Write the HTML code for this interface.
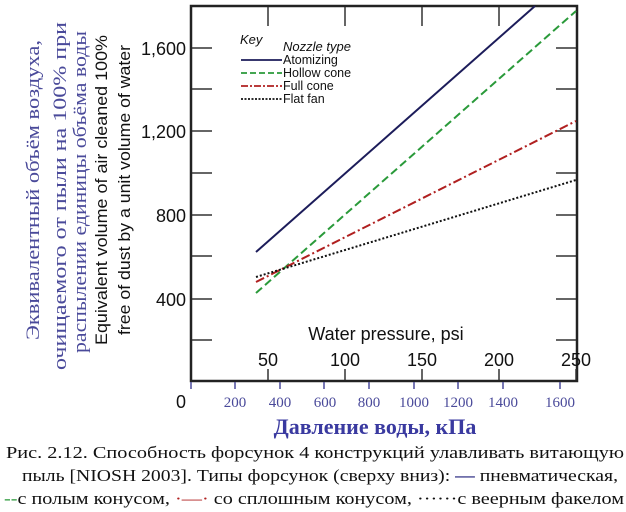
<!DOCTYPE html>
<html><head><meta charset="utf-8"><style>
html,body{margin:0;padding:0;background:#fff;}
svg{display:block;}
</style></head><body>
<svg width="626" height="512" viewBox="0 0 626 512" xmlns="http://www.w3.org/2000/svg">
<rect width="626" height="512" fill="#fff"/>
<rect x="191" y="6" width="386" height="375" fill="none" stroke="#222" stroke-width="2.5"/>
<g stroke="#333" stroke-width="1.5">
<line x1="192" y1="48" x2="212" y2="48"/><line x1="192" y1="89" x2="212" y2="89"/>
<line x1="192" y1="131" x2="212" y2="131"/><line x1="192" y1="173" x2="212" y2="173"/>
<line x1="192" y1="215" x2="212" y2="215"/><line x1="192" y1="256" x2="212" y2="256"/>
<line x1="192" y1="299" x2="212" y2="299"/><line x1="192" y1="340" x2="212" y2="340"/>
<line x1="556" y1="48" x2="576" y2="48"/><line x1="556" y1="89" x2="576" y2="89"/>
<line x1="556" y1="131" x2="576" y2="131"/><line x1="556" y1="173" x2="576" y2="173"/>
<line x1="556" y1="215" x2="576" y2="215"/><line x1="556" y1="256" x2="576" y2="256"/>
<line x1="556" y1="299" x2="576" y2="299"/><line x1="556" y1="340" x2="576" y2="340"/>
<line x1="268" y1="7" x2="268" y2="26"/><line x1="345" y1="7" x2="345" y2="26"/>
<line x1="422" y1="7" x2="422" y2="26"/><line x1="499" y1="7" x2="499" y2="26"/>
<line x1="268" y1="380" x2="268" y2="369"/><line x1="345" y1="380" x2="345" y2="369"/>
<line x1="422" y1="380" x2="422" y2="369"/><line x1="499" y1="380" x2="499" y2="369"/>
<line x1="576" y1="380" x2="576" y2="369"/>
</g>
<g stroke="#4a4a9a" stroke-width="1.5">
<line x1="191" y1="382" x2="191" y2="389"/><line x1="235" y1="382" x2="235" y2="389"/>
<line x1="280" y1="382" x2="280" y2="389"/><line x1="324" y1="382" x2="324" y2="389"/>
<line x1="369" y1="382" x2="369" y2="389"/><line x1="414" y1="382" x2="414" y2="389"/>
<line x1="458" y1="382" x2="458" y2="389"/><line x1="503" y1="382" x2="503" y2="389"/>
<line x1="560" y1="382" x2="560" y2="389"/>
</g>
<line x1="256" y1="252" x2="535" y2="6" stroke="#1c1c5a" stroke-width="2"/>
<line x1="256" y1="293" x2="576" y2="11" stroke="#2a9a3a" stroke-width="2" stroke-dasharray="8,4"/>
<line x1="256" y1="282" x2="576" y2="121" stroke="#b02020" stroke-width="2" stroke-dasharray="9,3,2,3"/>
<line x1="256" y1="277" x2="576" y2="180" stroke="#111" stroke-width="2" stroke-dasharray="2,2"/>
<g font-family="Liberation Sans, sans-serif" font-size="12.5" fill="#111">
<text x="240" y="44" font-style="italic" font-size="13">Key</text>
<text x="283" y="51" font-style="italic" font-size="13">Nozzle type</text>
<text x="283" y="64">Atomizing</text>
<text x="283" y="77">Hollow cone</text>
<text x="283" y="90">Full cone</text>
<text x="283" y="103">Flat fan</text>
</g>
<line x1="241" y1="60" x2="282" y2="60" stroke="#1c1c5a" stroke-width="1.8"/>
<line x1="241" y1="73" x2="282" y2="73" stroke="#2a9a3a" stroke-width="1.8" stroke-dasharray="6,3"/>
<line x1="241" y1="86" x2="282" y2="86" stroke="#b02020" stroke-width="1.8" stroke-dasharray="7,2,2,2"/>
<line x1="241" y1="99" x2="282" y2="99" stroke="#111" stroke-width="1.8" stroke-dasharray="2,1.5"/>
<g font-family="Liberation Sans, sans-serif" font-size="18" fill="#111" text-anchor="end">
<text x="186" y="55">1,600</text>
<text x="186" y="138">1,200</text>
<text x="186" y="222">800</text>
<text x="186" y="306">400</text>
<text x="186" y="408">0</text>
</g>
<g font-family="Liberation Sans, sans-serif" font-size="18" fill="#111" text-anchor="middle">
<text x="386" y="340">Water pressure, psi</text>
<text x="268" y="366">50</text><text x="345" y="366">100</text>
<text x="422" y="366">150</text><text x="499" y="366">200</text>
<text x="576" y="366">250</text>
</g>
<g font-family="Liberation Serif, serif" font-size="15" fill="#4a4a9a" text-anchor="middle">
<text x="235" y="407">200</text><text x="280" y="407">400</text>
<text x="325" y="407">600</text><text x="369" y="407">800</text>
<text x="414" y="407">1000</text><text x="458" y="407">1200</text>
<text x="503" y="407">1400</text><text x="560" y="407">1600</text>
</g>
<text x="375" y="434" font-family="Liberation Serif, serif" font-size="22" font-weight="bold" fill="#3a3aa0" text-anchor="middle">Давление воды, кПа</text>
<g font-family="Liberation Sans, sans-serif" font-size="17" fill="#111" text-anchor="middle">
<text transform="translate(107,190) rotate(-90)" textLength="310" lengthAdjust="spacingAndGlyphs">Equivalent volume of air cleaned 100%</text>
<text transform="translate(130,190) rotate(-90)" textLength="290" lengthAdjust="spacingAndGlyphs">free of dust by a unit volume of water</text>
</g>
<g font-family="Liberation Serif, serif" font-size="19" fill="#4a4a9a" text-anchor="middle">
<text transform="translate(39,190) rotate(-90)" textLength="300" lengthAdjust="spacingAndGlyphs">Эквивалентный объём воздуха,</text>
<text transform="translate(66,196) rotate(-90)" textLength="348" lengthAdjust="spacingAndGlyphs">очищаемого от пыли на 100% при</text>
<text transform="translate(86,192) rotate(-90)" textLength="322" lengthAdjust="spacingAndGlyphs">распылении единицы объёма воды</text>
</g>
<g font-family="Liberation Serif, serif" font-size="17" fill="#111">
<text x="6" y="458" textLength="618" lengthAdjust="spacingAndGlyphs">Рис. 2.12. Способность форсунок 4 конструкций улавливать витающую</text>
<text x="22" y="481" textLength="596" lengthAdjust="spacingAndGlyphs">пыль [NIOSH 2003]. Типы форсунок (сверху вниз): <tspan fill="#1c1c7a" font-weight="bold">—</tspan> пневматическая,</text>
<text x="4" y="504" textLength="620" lengthAdjust="spacingAndGlyphs"><tspan fill="#2a9a3a">--</tspan>с полым конусом, <tspan fill="#b02020">·—·</tspan> со сплошным конусом, <tspan>······</tspan>с веерным факелом</text>
</g>
</svg>
</body></html>
